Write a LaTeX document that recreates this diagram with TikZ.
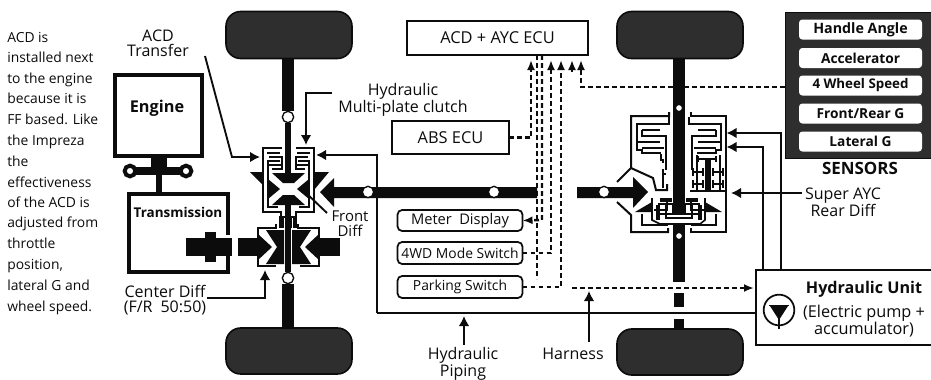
\documentclass[tikz,border=0pt]{standalone}
\usepackage{fontspec}
\setmainfont{Open Sans}
\usetikzlibrary{arrows.meta,calc}
\definecolor{ink}{HTML}{0C0C0C}
\definecolor{wheelc}{HTML}{2E2E2E}
\tikzset{
  wh/.style 2 args={minimum width=#1*0.75pt,minimum height=#2*0.75pt,inner sep=0pt,outer sep=0pt},
  wheel/.style={fill=wheelc,draw=ink,line width=1.2pt,rounded corners=11pt,wh={126}{47}},
  ecu/.style={draw=ink,line width=1.7pt,fill=white,text=ink,font=\fontsize{12.3}{14}\selectfont},
  swbox/.style={draw=ink,line width=1.3pt,rounded corners=3.5pt,fill=white,text=ink,font=\fontsize{10.4}{12}\selectfont},
  sensor/.style={fill=white,rounded corners=2.5pt,wh={123}{20},text=ink,font=\fontsize{10.3}{12}\selectfont\bfseries},
  lab/.style={align=center,inner sep=0pt,text=ink,font=\fontsize{12}{11.3}\selectfont},
  side/.style={anchor=base west,inner sep=0pt,text=ink,font=\fontsize{10.4}{12}\selectfont},
  thick axle/.style={line width=8.5pt,ink},
  thin axle/.style={line width=4.5pt,ink},
  hole/.style={circle,fill=white,draw=ink,line width=1pt,inner sep=0pt,minimum size=8.5pt},
  pipe/.style={line width=2.1pt,ink},
  thinl/.style={line width=1.4pt,ink},
  harn/.style={line width=1.8pt,ink,dash pattern=on 3.7pt off 2.3pt},
  tipa/.style={-{Latex[length=7.5pt,width=8pt]}},
  tipb/.style={-{Latex[length=7.5pt,width=6pt]}},
  mech/.style={line width=1.2pt,ink,line join=miter},
  bodyl/.style={line width=1.5pt,ink,line join=miter},
}
\begin{document}
\begin{tikzpicture}[x=0.75pt,y=-0.75pt]
\clip (0,0) rectangle (931,379);
\fill[white] (0,0) rectangle (931,379);

% side text
\foreach \t/\yy in {ACD is/42,installed next/62,to the engine/83,because it is/103,FF based. Like/124,the Impreza/145,the/166,effectiveness/187,of the ACD is/207,adjusted from/227,throttle/248,{position,}/269,lateral G and/290,wheel speed./311}
  \node[side] at (7,\yy) {\t};

% wheels
\node[wheel] (wTL) at (289,35) {};
\node[wheel,wh={126}{46}] (wBL) at (289,351) {};
\node[wheel] (wTR) at (680,35) {};
\node[wheel,wh={126}{46}] (wBR) at (680,352) {};

% engine / transmission
\node[draw=ink,line width=2.4pt,wh={87}{81}] (engine) at (158.5,115.5) {};
\node[font=\fontsize{12.2}{14}\selectfont\bfseries,inner sep=0pt,text=ink] (enginet) at (157,108) {Engine};
\fill[ink] (151,156) rectangle (167,172);
\draw[line width=5.5pt,ink] (130,171) -- (186,171);
\foreach \c in {130,186} \node[circle,fill=white,draw=ink,line width=3pt,minimum size=8pt,inner sep=0pt] at (\c,171) {};
\draw[line width=4.5pt,ink] (158.5,172) -- (158.5,194);
\draw[ink,line width=2.4pt] (228,235) -- (228,194) -- (129,194) -- (129,272) -- (228,272) -- (228,252);
\node[font=\fontsize{10.1}{12}\selectfont\bfseries,inner sep=0pt,text=ink] (trans) at (178,212) {Transmission};
\fill[ink] (186,238) rectangle (232,256);
\fill[ink] (205,232) rectangle (216,262);

% left axle
\node[hole] (hTL) at (288,117) {};
\draw[thick axle] (wTL.south -| hTL) -- (hTL.north);
\draw[thin axle] (hTL.south) -- (288,176);
\node[hole] (hBL) at (288,278) {};
\draw[thick axle] (hBL.south) -- (wBL.north -| hBL);

% front diff body
\draw[bodyl] (282,148) -- (263,148) -- (263,212) -- (281,212) -- (281,228);
\draw[bodyl] (296,148) -- (314,148) -- (314,212) -- (296,212) -- (296,228);
\draw[mech] (268,160) -- (268,207) -- (278,207) ;
\draw[mech] (309,160) -- (309,207) -- (299,207);
% clutch packs
\draw[mech] (280,153) -- (267,153);\draw[mech] (269,157) -- (282,157) -- (282,165) -- (269,165);\draw[mech] (269,161) -- (280,161);
\draw[mech] (297,153) -- (310,153);\draw[mech] (308,157) -- (296,157) -- (296,165) -- (308,165);\draw[mech] (308,161) -- (298,161);
\draw[mech] (282,165) -- (282,169) -- (272,169);
\draw[mech] (296,165) -- (296,169) -- (305,169);
% front diff gears: four black pieces round a white square
\fill[ink] (272,173) -- (305,173) -- (294,183) -- (283,183) -- cycle;
\fill[ink] (272,205) -- (305,205) -- (294,195) -- (283,195) -- cycle;
\fill[ink] (268,179) -- (280,189) -- (268,199) -- cycle;
\fill[ink] (309,179) -- (297,189) -- (309,199) -- cycle;
\fill[ink] (250,172) -- (263,172) -- (263,185) -- cycle;
\fill[ink] (314,172) -- (329,172) -- (314,190) -- cycle;
% prop shaft in diff
\draw[line width=5pt,ink] (288,198) -- (288,272);
\fill[ink] (279,216) rectangle (297,228);
\draw[white,line width=.5pt] (284,218) -- (284,268) (292,218) -- (292,268);

% propeller shaft front
\fill[ink] (537,187) -- (334,187) -- (334,178) -- (320,192) -- (334,207) -- (334,198) -- (537,198) -- cycle;
\node[hole] (hP1) at (368,192) {};
\node[hole] (hP2) at (494,192) {};

% centre diff
\draw[bodyl] (276,224) -- (276,228) -- (258,228) -- (258,266) -- (276,266);
\draw[bodyl] (298,224) -- (298,228) -- (319,228) -- (319,266) -- (300,266);
\fill[ink] (266,230) -- (284,230) -- (284,264) -- (266,264) -- (277,247) -- cycle;
\fill[ink] (311,230) -- (292,230) -- (292,264) -- (311,264) -- (300,247) -- cycle;
\fill[ink] (238,238) rectangle (258,256);
\fill[ink] (258,234) -- (272,247) -- (258,260) -- cycle;
\fill[ink] (340,238) rectangle (319,256);
\fill[ink] (319,234) -- (305,247) -- (319,260) -- cycle;
\draw[line width=5pt,ink] (288,228) -- (288,272);

% right axle
\draw[thick axle] (wTR.south -| 679,0) -- (679,212);
\node[hole,minimum size=5.5pt] (hTR) at (679,108) {};
\draw[thick axle] (679,224) -- (679,282);
\node[hole,minimum size=5.5pt] (hBR) at (679,236) {};
\fill[ink] (674,293) rectangle (684,307);
\fill[ink] (674,319) rectangle (684,329);

% right diff casing
\draw[bodyl] (669,112) -- (669,116) -- (631,116) -- (631,168) -- (617,182);
\draw[bodyl] (631,168) -- (653,178) -- (656,190) -- (667,190) -- (667,184);
\draw[bodyl] (691,112) -- (691,116) -- (726,116) -- (726,232) -- (691,232) -- (691,228);
\draw[bodyl] (617,202) -- (631,215) -- (631,232) -- (668,232) -- (668,228);
\draw[bodyl] (690,191) -- (726,191);

% clutch combs, mirrored
\foreach \fx/\sc in {0/1,1358/-1}{
\begin{scope}[shift={(\fx,0)},xscale=\sc]
  \draw[mech] (669,117) -- (669,124) -- (637,124) -- (637,142);
  \draw[mech] (642,130) -- (660,130);
  \draw[mech] (642,130) -- (642,136) -- (666,136) -- (666,170);
  \draw[mech] (637,142) -- (660,142);
  \draw[mech] (642,148) -- (664,148);
  \draw[mech] (637,142) -- (637,150) -- (642,150) -- (642,153) -- (661,153);
\end{scope}}
\draw[mech] (661,154) -- (661,160) -- (663,160) -- (663,163);
\draw[mech] (663,188) -- (663,169);\draw[mech] (666,174) -- (662,174);
\draw[mech] (654,210) -- (667,210) -- (667,198);
\draw[mech] (704,210) -- (691,210) -- (691,198);
% right gears
\fill[ink] (705,158) rectangle (711,190);
\draw[mech] (698,159) -- (716,159) (716,156) -- (716,162) (698,156) -- (698,162);
\foreach \gx/\gy in {698/172,698/184,718/172,718/184}{
  \draw[mech] (\gx-5,\gy) -- (\gx+5,\gy);
  \draw[mech] (\gx-5,\gy-4) -- (\gx-5,\gy+4);
  \draw[mech] (\gx+5,\gy-4) -- (\gx+5,\gy+4);
}
\draw[mech] (697,155) -- (697,190);
\draw[mech] (720,155) -- (720,190);
% ring and side gears
\fill[ink] (635,212) -- (652,202) -- (652,212) -- cycle;
\fill[ink] (722,212) -- (705,202) -- (705,212) -- cycle;
\fill[ink] (660,198) rectangle (672,202);
\fill[ink] (686,198) rectangle (698,202);
\draw[mech] (652,198) -- (652,220) -- (660,224) -- (700,224) -- (705,220) -- (705,198);
\draw[mech] (658,204) -- (700,204);
\draw[mech] (660,214) -- (698,214);
\draw[mech] (666,204) -- (666,218) -- (692,218) -- (692,204);
\fill[ink] (672,205) rectangle (686,215);
\fill[ink] (656,205) rectangle (660,220);
\fill[ink] (698,205) rectangle (702,220);
\draw[mech] (642,214) -- (642,225) -- (668,225);
\draw[mech] (716,214) -- (716,225) -- (691,225);

% rear prop shaft
\fill[ink] (577,187) -- (633,187) -- (633,177) -- (648,192) -- (633,208) -- (633,198) -- (577,198) -- cycle;
\node[hole] (hP3) at (604,192) {};

% ECUs
\node[ecu,wh={181}{34}] (acd) at (497.5,38) {ACD + AYC ECU};
\node[ecu,wh={117}{33}] (abs) at (450.5,137.5) {ABS ECU};
\node[swbox,wh={125}{21},font=\fontsize{11}{13}\selectfont] (meter) at (460,220.5) {Meter\enspace Display};
\node[swbox,wh={125}{22}] (mode) at (460,253) {4WD Mode Switch};
\node[swbox,wh={125}{22}] (park) at (460,287) {Parking Switch};

% sensors
\node[fill=wheelc,draw=ink,line width=.6pt,anchor=north west,wh={150}{146}] (sensors) at (785,12) {};
\node[sensor,font=\fontsize{10.7}{12}\selectfont\bfseries] (s1) at (860.5,29.5) {Handle Angle};
\node[sensor] (s2) at (860.5,58) {Accelerator};
\node[sensor,font=\fontsize{10}{12}\selectfont\bfseries] (s3) at (860.5,85.5) {4 Wheel Speed};
\node[sensor] (s4) at (860.5,113.5) {Front/Rear G};
\node[sensor] (s5) at (860.5,141.5) {Lateral G};
\node[inner sep=0pt,font=\fontsize{12.7}{14}\selectfont\bfseries,text=ink] (senst) at (860,168) {SENSORS};

% hydraulic unit
\node[draw=ink,line width=1.5pt,fill=white,anchor=north west,wh={190}{75}] (hyd) at (756,270) {};
\node[font=\fontsize{12.1}{14}\selectfont\bfseries,inner sep=0pt,text=ink] (hydt) at (864,289) {Hydraulic Unit};
\node[lab,font=\fontsize{12.2}{12}\selectfont] (hydd) at (864,321) {(Electric pump +\\accumulator)};
\node[circle,draw=ink,line width=1.3pt,minimum size=23pt,inner sep=0pt,fill=white] (pump) at (779,310) {};
\fill[ink] (770,306) -- (788,306) -- (779,320) -- cycle;
\draw[thinl] (769,305.5) -- (789,305.5);
\draw[thinl] (779,318) -- (779,329);

% hydraulic pipes
\coordinate (d1) at (726.5,133);
\coordinate (d2) at (726.5,147);
\draw[pipe,tipa] (hyd.north -| 781,0) |- (d1);
\draw[pipe,tipa] (hyd.north -| 763,0) |- (d2);
\coordinate (c1) at (316,155);
\draw[pipe,tipa] (377,313) -- (377,155) -- (c1);
\draw[pipe] (377,313) -- (hyd.west |- 0,313);

% harness
\coordinate (a1) at (531,60);\coordinate (a2) at (551,60);\coordinate (a3) at (561,60);\coordinate (a4) at (572,60);\coordinate (a5) at (581,60);
\draw[harn,tipb] (abs.east) -- (531,137.5) -- (a1);
\draw[harn,tipb] (mode.east) -- (551,253) -- (a2);
\draw[harn,tipb] (park.east) -- (561,287) -- (a3);
\draw[harn,tipb] (572,72) -- (a4);
\draw[harn,tipb] (sensors.west |- 0,87) -- (581,87) -- (a5);
\draw[harn] (acd.south -| 537,0) -- (537,279);
\draw[harn,tipb] (acd.south -| 542,0) -- (542,220) -- (meter.east);
\draw[harn,tipb] (572,288) -- (754,288);

% labels with leaders
\node[lab] (tACD) at (158,43) {ACD\\Transfer};
\coordinate (t1) at (260,157);
\draw[thinl,tipa] (205,56) -- (232,157) -- (t1);
\node[lab] (tMP) at (403,100) {Hydraulic\\Multi-plate clutch};
\coordinate (t2) at (306,145);
\draw[thinl,tipa] (332,93) -- (306,93) -- (t2);
\node[lab,font=\fontsize{11.2}{11.4}\selectfont] (tFD) at (350,224) {Front\\Diff};
\draw[thinl] (327,213) -- (305,192);
\node[lab] (tCD) at (165,300.5) {Center Diff\\(F/R\enspace50:50)};
\coordinate (t3) at (265,270);
\draw[thinl,tipa] (207,298) -- (265,298) -- (t3);
\node[lab] (tRD) at (843,202) {Super AYC\\Rear Diff};
\coordinate (t4) at (731,193);
\draw[thinl,tipa] (802,193) -- (t4);
\node[lab] (tHP) at (463,363.5) {Hydraulic\\Piping};
\coordinate (t5) at (464,316);
\draw[thinl,tipa] (464,345) -- (t5);
\node[lab] (tHa) at (573,354) {Harness};
\coordinate (t6) at (589,291);
\draw[thinl,tipa] (589,342) -- (t6);
\end{tikzpicture}
\end{document}
